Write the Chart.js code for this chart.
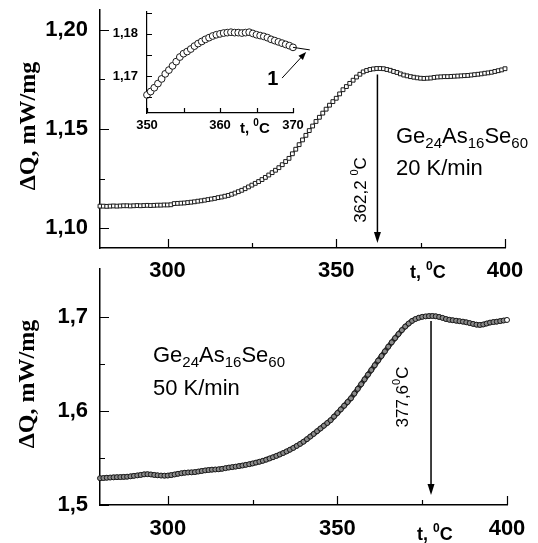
<!DOCTYPE html>
<html lang="ru">
<head>
<meta charset="UTF-8">
<title>DSC Ge24As16Se60</title>
<script src="https://cdn.jsdelivr.net/npm/chart.js"></script>
<style>
  body { margin: 0; background: #fff; }
  #wrap { position: relative; width: 538px; height: 543px; }
  canvas { position: absolute; }
</style>
</head>
<body>
<div id="wrap">
  <canvas id="chartTop" width="538" height="290" style="left:0;top:0"></canvas>
  <canvas id="chartBottom" width="538" height="283" style="left:0;top:260px"></canvas>
  <canvas id="chartInset" width="230" height="140" style="left:100px;top:0"></canvas>
</div>

<script>
// temperature, °C (same sampling for both main curves)
const temps = [
  280, 281, 282, 283, 284, 285, 286, 287, 288, 289,
  290, 291, 292, 293, 294, 295, 296, 297, 298, 299,
  300, 301, 302, 303, 304, 305, 306, 307, 308, 309,
  310, 311, 312, 313, 314, 315, 316, 317, 318, 319,
  320, 321, 322, 323, 324, 325, 326, 327, 328, 329,
  330, 331, 332, 333, 334, 335, 336, 337, 338, 339,
  340, 341, 342, 343, 344, 345, 346, 347, 348, 349,
  350, 351, 352, 353, 354, 355, 356, 357, 358, 359,
  360, 361, 362, 363, 364, 365, 366, 367, 368, 369,
  370, 371, 372, 373, 374, 375, 376, 377, 378, 379,
  380, 381, 382, 383, 384, 385, 386, 387, 388, 389,
  390, 391, 392, 393, 394, 395, 396, 397, 398, 399,
  400
];

// 20 K/min
const dq20 = [
  1.1111, 1.1111, 1.1110, 1.1111, 1.1112, 1.1111, 1.1112, 1.1113, 1.1113, 1.1112,
  1.1113, 1.1114, 1.1113, 1.1114, 1.1115, 1.1114, 1.1115, 1.1116, 1.1116, 1.1117,
  1.1117, 1.1118, 1.1124, 1.1125, 1.1126, 1.1127, 1.1129, 1.1131, 1.1133, 1.1136,
  1.1138, 1.1141, 1.1144, 1.1147, 1.1150, 1.1154, 1.1157, 1.1161, 1.1165, 1.1171,
  1.1177, 1.1184, 1.1191, 1.1199, 1.1208, 1.1217, 1.1226, 1.1235, 1.1245, 1.1256,
  1.1268, 1.1280, 1.1292, 1.1305, 1.1320, 1.1336, 1.1352, 1.1375, 1.1398, 1.1421,
  1.1445, 1.1468, 1.1492, 1.1515, 1.1538, 1.1559, 1.1580, 1.1600, 1.1620, 1.1638,
  1.1655, 1.1677, 1.1698, 1.1714, 1.1730, 1.1746, 1.1762, 1.1776, 1.1788, 1.1795,
  1.1800, 1.1803, 1.1805, 1.1805, 1.1804, 1.1800, 1.1796, 1.1790, 1.1785, 1.1778,
  1.1772, 1.1768, 1.1764, 1.1761, 1.1758, 1.1756, 1.1755, 1.1756, 1.1757, 1.1760,
  1.1762, 1.1763, 1.1764, 1.1764, 1.1765, 1.1766, 1.1767, 1.1768, 1.1769, 1.1770,
  1.1772, 1.1774, 1.1776, 1.1778, 1.1781, 1.1783, 1.1786, 1.1790, 1.1794, 1.1798,
  1.1804
];

// 50 K/min
const dq50 = [
  1.5285, 1.5287, 1.5290, 1.5292, 1.5294, 1.5296, 1.5297, 1.5299, 1.5301, 1.5305,
  1.5310, 1.5315, 1.5320, 1.5326, 1.5328, 1.5325, 1.5320, 1.5316, 1.5313, 1.5312,
  1.5313, 1.5318, 1.5325, 1.5332, 1.5338, 1.5343, 1.5346, 1.5347, 1.5350, 1.5356,
  1.5362, 1.5368, 1.5372, 1.5376, 1.5378, 1.5380, 1.5385, 1.5392, 1.5398, 1.5403,
  1.5408, 1.5414, 1.5420, 1.5427, 1.5434, 1.5442, 1.5451, 1.5460, 1.5470, 1.5482,
  1.5495, 1.5508, 1.5522, 1.5537, 1.5553, 1.5570, 1.5588, 1.5607, 1.5628, 1.5650,
  1.5673, 1.5700, 1.5728, 1.5756, 1.5785, 1.5814, 1.5843, 1.5872, 1.5902, 1.5940,
  1.5978, 1.6017, 1.6056, 1.6095, 1.6135, 1.6185, 1.6235, 1.6285, 1.6336, 1.6386,
  1.6436, 1.6486, 1.6536, 1.6585, 1.6634, 1.6684, 1.6730, 1.6775, 1.6818, 1.6860,
  1.6898, 1.6930, 1.6958, 1.6978, 1.6992, 1.7001, 1.7006, 1.7009, 1.7010, 1.7007,
  1.7000, 1.6990, 1.6978, 1.6970, 1.6965, 1.6960, 1.6955, 1.6950, 1.6943, 1.6935,
  1.6926, 1.6918, 1.6915, 1.6920, 1.6930, 1.6940, 1.6946, 1.6950, 1.6956, 1.6962,
  1.6968
];

// inset (20 K/min, 350-370 °C)
const insetTemps = [
  350, 350.5, 351, 351.5, 352, 352.5, 353, 353.5, 354, 354.5,
  355, 355.5, 356, 356.5, 357, 357.5, 358, 358.5, 359, 359.5,
  360, 360.5, 361, 361.5, 362, 362.5, 363, 363.5, 364, 364.5,
  365, 365.5, 366, 366.5, 367, 367.5, 368, 368.5, 369, 369.5,
  370
];
const insetDq = [
  1.1655, 1.1663, 1.1672, 1.1682, 1.1693, 1.1705, 1.1714, 1.1724, 1.1734, 1.1745,
  1.1753, 1.1758, 1.1764, 1.1771, 1.1777, 1.1782, 1.1787, 1.1791, 1.1795, 1.1798,
  1.1800, 1.1802, 1.1803, 1.1804, 1.1803, 1.1803, 1.1802, 1.1803, 1.1804, 1.1801,
  1.1798, 1.1796, 1.1794, 1.1791, 1.1787, 1.1784, 1.1781, 1.1778, 1.1775, 1.1772,
  1.1768
];

// ticks
const xTicksMain = [300, 350, 400];
const xMinorMain = [325, 375];
const yTicksTop = [1.10, 1.15, 1.20];
const yMinorTop = [1.125, 1.175];
const yTicksBottom = [1.5, 1.6, 1.7];
const yMinorBottom = [1.55, 1.65];
const xTicksInset = [350, 360, 370];
const xMinorInset = [355, 365];
const yTicksInset = [1.17, 1.18];
const yMinorInset = [1.165, 1.175, 1.185];

// peaks marked with arrows
const peak20 = 362.2;
const peak50 = 377.6;

const SANS = "'Liberation Sans', Arial, sans-serif";
const SERIF = "'Liberation Serif', 'Times New Roman', serif";
Chart.defaults.font.family = SANS;

const comma = n => v => v.toFixed(n).replace('.', ',');

// ticks pointing inside the plot
function innerTicks(cfg) {
  return {
    id: 'innerTicks',
    afterDraw(chart) {
      const { ctx, chartArea: a, scales: { x, y } } = chart;
      ctx.save();
      ctx.strokeStyle = '#000';
      ctx.lineWidth = 1.2;
      ctx.beginPath();
      const xt = (list, len) => list.forEach(v => {
        const px = Math.round(x.getPixelForValue(v)) + 0.5;
        ctx.moveTo(px, a.bottom); ctx.lineTo(px, a.bottom - len);
      });
      const yt = (list, len) => list.forEach(v => {
        const py = Math.round(y.getPixelForValue(v)) + 0.5;
        ctx.moveTo(a.left, py); ctx.lineTo(a.left + len, py);
      });
      xt(cfg.xMajor, cfg.major); xt(cfg.xMinor, cfg.minor);
      yt(cfg.yMajor, cfg.major); yt(cfg.yMinor, cfg.minor);
      ctx.stroke();
      ctx.restore();
    }
  };
}

// text with sub/superscripts: parts = [{t, f, dy}]
function drawRich(ctx, parts, x, y, align) {
  let w = 0;
  parts.forEach(p => { ctx.font = p.f; p.w = ctx.measureText(p.t).width; w += p.w; });
  let cx = align === 'center' ? x - w / 2 : (align === 'right' ? x - w : x);
  ctx.textAlign = 'left';
  parts.forEach(p => { ctx.font = p.f; ctx.fillText(p.t, cx, y + (p.dy || 0)); cx += p.w; });
}

function drawArrow(ctx, x1, y1, x2, y2, head, half) {
  const a = Math.atan2(y2 - y1, x2 - x1);
  const c = Math.cos(a), s = Math.sin(a);
  ctx.beginPath();
  ctx.moveTo(x1, y1);
  ctx.lineTo(x2 - c * head * 0.7, y2 - s * head * 0.7);
  ctx.stroke();
  ctx.beginPath();
  ctx.moveTo(x2, y2);
  ctx.lineTo(x2 - head * c + half * s, y2 - head * s - half * c);
  ctx.lineTo(x2 - head * c - half * s, y2 - head * s + half * c);
  ctx.closePath();
  ctx.fill();
}

function yTitle(ctx, cx, cy) {
  ctx.save();
  ctx.translate(cx, cy);
  ctx.rotate(-Math.PI / 2);
  ctx.font = 'bold 24px ' + SERIF;
  ctx.textAlign = 'center';
  ctx.textBaseline = 'middle';
  ctx.fillText('\u0394Q, mW/mg', 0, 0);
  ctx.restore();
}

function degTitle(ctx, x, y, size, sup) {
  drawRich(ctx, [
    { t: 't, ', f: `bold ${size}px ${SANS}` },
    { t: '0', f: `bold ${sup}px ${SANS}`, dy: -Math.round(size * 0.45) },
    { t: 'C', f: `bold ${size}px ${SANS}` }
  ], x, y, 'left');
}

function formula(ctx, x, y) {
  const big = `22px ${SANS}`, sub = `15px ${SANS}`;
  drawRich(ctx, [
    { t: 'Ge', f: big }, { t: '24', f: sub, dy: 5 },
    { t: 'As', f: big }, { t: '16', f: sub, dy: 5 },
    { t: 'Se', f: big }, { t: '60', f: sub, dy: 5 }
  ], x, y, 'left');
}

function vertLabel(ctx, text, bx, cy) {
  ctx.save();
  ctx.translate(bx, cy);
  ctx.rotate(-Math.PI / 2);
  ctx.textBaseline = 'alphabetic';
  drawRich(ctx, [
    { t: text, f: `17px ${SANS}` },
    { t: '0', f: `11px ${SANS}`, dy: -8 },
    { t: 'C', f: `17px ${SANS}` }
  ], 0, 0, 'center');
  ctx.restore();
}

function makeChart(id, c) {
  return new Chart(document.getElementById(id), {
    type: 'line',
    data: {
      labels: c.labels,
      datasets: [{
        data: c.values,
        showLine: c.lineWidth > 0,
        borderWidth: c.lineWidth,
        borderColor: c.lineColor,
        tension: 0,
        clip: false,
        pointStyle: c.pointStyle,
        pointRadius: c.radius,
        pointBorderWidth: c.border,
        pointBorderColor: '#1a1a1a',
        pointBackgroundColor: c.fill
      }]
    },
    options: {
      responsive: false,
      animation: false,
      events: [],
      layout: { padding: c.padding },
      plugins: { legend: { display: false }, tooltip: { enabled: false } },
      scales: {
        x: {
          type: 'linear', min: c.xMin, max: c.xMax,
          grid: { display: false, drawTicks: false },
          border: { color: '#000', width: c.axisWidth },
          afterBuildTicks: s => { s.ticks = c.xTicks.map(v => ({ value: v })); },
          afterFit: s => { s.height = c.xHeight; s.paddingLeft = 0; s.paddingRight = 0; },
          ticks: {
            autoSkip: false, maxRotation: 0, padding: c.xPad, color: '#000',
            font: { size: c.tickSize, weight: 'bold' },
            callback: v => String(v)
          }
        },
        y: {
          min: c.yMin, max: c.yMax,
          grid: { display: false, drawTicks: false },
          border: { color: '#000', width: c.axisWidth },
          afterBuildTicks: s => { s.ticks = c.yTicks.map(v => ({ value: v })); },
          afterFit: s => { s.width = c.yWidth; s.paddingTop = 0; s.paddingBottom = 0; },
          ticks: {
            autoSkip: false, padding: c.yPad, color: '#000',
            font: { size: c.tickSize, weight: 'bold' },
            callback: comma(c.decimals)
          }
        }
      }
    },
    plugins: [innerTicks(c.inner), { id: 'notes', afterDraw: c.notes }]
  });
}

// upper panel, 20 K/min
makeChart('chartTop', {
  labels: temps, values: dq20,
  lineWidth: 1.5, lineColor: '#222',
  pointStyle: 'rect', radius: 2.7, border: 1, fill: '#fff',
  padding: { left: 0, right: 33, top: 10, bottom: 0 },
  xMin: 280, xMax: 400, yMin: 1.09, yMax: 1.21,
  xTicks: xTicksMain, yTicks: yTicksTop, decimals: 2,
  xHeight: 42, yWidth: 100, xPad: 10, yPad: 12, tickSize: 22, axisWidth: 1.5,
  inner: { xMajor: xTicksMain, xMinor: xMinorMain, yMajor: yTicksTop, yMinor: yMinorTop, major: 9, minor: 5 },
  notes: chart => {
    const { ctx, scales: { x, y }, chartArea: a } = chart;
    ctx.save();
    ctx.fillStyle = '#000';
    ctx.strokeStyle = '#000';
    yTitle(ctx, 29, 126);
    degTitle(ctx, 410, 278, 18, 12);
    formula(ctx, 396, 143);
    ctx.font = `22px ${SANS}`;
    ctx.textAlign = 'left';
    ctx.fillText('20 K/min', 396, 175);
    ctx.lineWidth = 1.5;
    const px = x.getPixelForValue(peak20);
    drawArrow(ctx, px, y.getPixelForValue(dq20[temps.indexOf(362)]) + 6, px, a.bottom - 5, 11, 3.5);
    vertLabel(ctx, '362,2 ', px - 11, 190);
    ctx.restore();
  }
});

// lower panel, 50 K/min
makeChart('chartBottom', {
  labels: temps, values: dq50,
  lineWidth: 5, lineColor: '#2a2a2a',
  pointStyle: 'circle', radius: 2.5, border: 1,
  fill: ctx => ctx.dataIndex === dq50.length - 1 ? '#fff' : '#8a8a8a',
  padding: { left: 0, right: 31, top: 9, bottom: 0 },
  xMin: 280, xMax: 400, yMin: 1.5, yMax: 1.751,
  xTicks: xTicksMain, yTicks: yTicksBottom, decimals: 1,
  xHeight: 38, yWidth: 100, xPad: 11, yPad: 12, tickSize: 22, axisWidth: 1.5,
  inner: { xMajor: xTicksMain, xMinor: xMinorMain, yMajor: yTicksBottom, yMinor: yMinorBottom, major: 9, minor: 5 },
  notes: chart => {
    const { ctx, scales: { x, y }, chartArea: a } = chart;
    ctx.save();
    ctx.fillStyle = '#000';
    ctx.strokeStyle = '#000';
    yTitle(ctx, 28, 124);
    degTitle(ctx, 417, 280, 18, 12);
    formula(ctx, 153, 102);
    ctx.font = `22px ${SANS}`;
    ctx.textAlign = 'left';
    ctx.fillText('50 K/min', 153, 135);
    ctx.lineWidth = 1.5;
    const px = x.getPixelForValue(peak50);
    drawArrow(ctx, px, y.getPixelForValue(dq50[temps.indexOf(378)]) + 5, px, a.bottom - 10, 11, 3.5);
    vertLabel(ctx, '377,6', px - 23, 137);
    ctx.restore();
  }
});

// inset
makeChart('chartInset', {
  labels: insetTemps, values: insetDq,
  lineWidth: 1, lineColor: '#222',
  pointStyle: 'circle', radius: 3.4, border: 1, fill: '#fff',
  padding: { left: 0, right: 37, top: 12, bottom: 0 },
  xMin: 350, xMax: 370, yMin: 1.1612, yMax: 1.1852,
  xTicks: xTicksInset, yTicks: yTicksInset, decimals: 2,
  xHeight: 27, yWidth: 47, xPad: 5, yPad: 9, tickSize: 13, axisWidth: 1.2,
  inner: { xMajor: xTicksInset, xMinor: xMinorInset, yMajor: yTicksInset, yMinor: yMinorInset, major: 5, minor: 5 },
  notes: chart => {
    const { ctx, scales: { x, y } } = chart;
    ctx.save();
    ctx.fillStyle = '#000';
    ctx.strokeStyle = '#000';
    degTitle(ctx, 140, 133, 15, 10);
    ctx.lineWidth = 1;
    const last = insetDq.length - 1;
    ctx.beginPath();
    ctx.moveTo(x.getPixelForValue(insetTemps[last]), y.getPixelForValue(insetDq[last]));
    ctx.lineTo(x.getPixelForValue(372.3), y.getPixelForValue(1.1762));
    ctx.stroke();
    drawArrow(ctx, x.getPixelForValue(368.5), y.getPixelForValue(1.1695),
      x.getPixelForValue(371.8), y.getPixelForValue(1.1757), 8, 3);
    ctx.font = `bold 20px ${SANS}`;
    ctx.textAlign = 'right';
    ctx.fillText('1', x.getPixelForValue(368.0), y.getPixelForValue(1.1679));
    ctx.restore();
  }
});
</script>
</body>
</html>
